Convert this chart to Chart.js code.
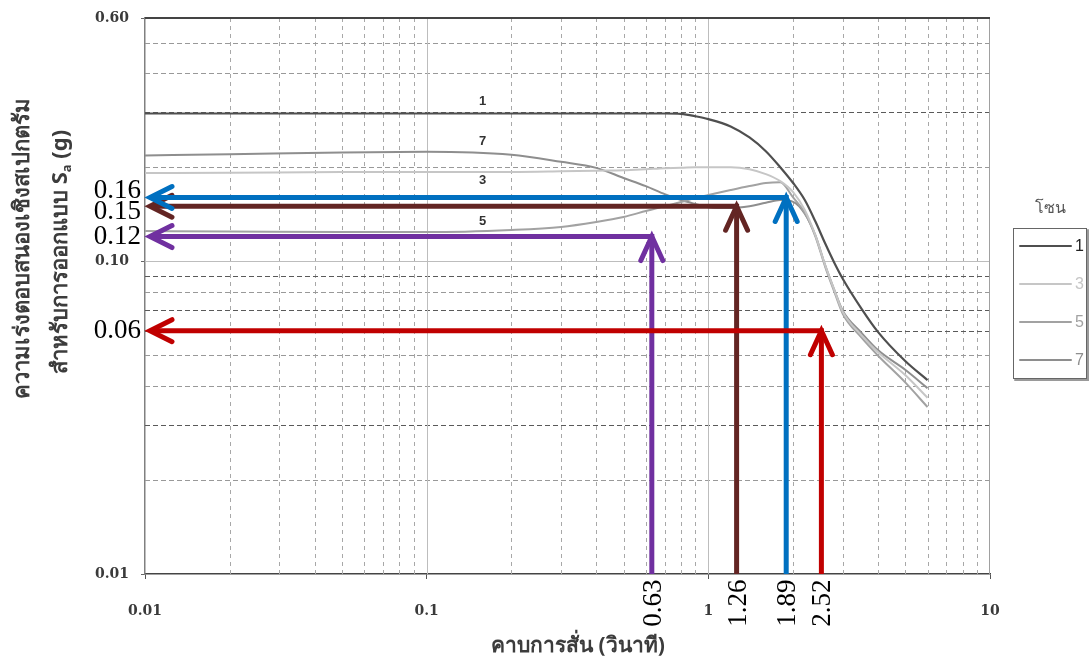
<!DOCTYPE html>
<html>
<head>
<meta charset="utf-8">
<script src="https://cdn.jsdelivr.net/npm/chart.js@4/dist/chart.umd.min.js"></script>
<style>
  html, body { margin: 0; padding: 0; background: #fff; }
</style>
</head>
<body>
<canvas id="myChart" width="1089" height="657"></canvas>
<script>
// design spectra, period (s) vs Sa (g), one line per zone
const periods = [0.01, 0.02, 0.05, 0.1, 0.2, 0.3, 0.4, 0.5, 0.6, 0.7, 0.8, 0.9, 1.0, 1.2, 1.4,
  1.6, 1.8, 2.0, 2.2, 2.4, 2.6, 2.8, 3.0, 3.5, 4.0, 5.0, 6.0];
const zone1 = [0.297, 0.297, 0.297, 0.297, 0.297, 0.297, 0.297, 0.297, 0.297, 0.297, 0.296, 0.291, 0.285, 0.270, 0.249,
  0.225, 0.200, 0.178, 0.157, 0.134, 0.114, 0.099, 0.088, 0.0705, 0.0595, 0.048, 0.0417];
const zone3 = [0.1916, 0.192, 0.193, 0.193, 0.193, 0.194, 0.195, 0.1955, 0.197, 0.1985, 0.199, 0.200, 0.200, 0.200, 0.197,
  0.190, 0.1805, 0.1665, 0.146, 0.121, 0.097, 0.081, 0.069, 0.058, 0.0513, 0.0433, 0.0366];
const zone5 = [0.125, 0.1246, 0.124, 0.124, 0.126, 0.1288, 0.1336, 0.1386, 0.1448, 0.1502, 0.1547, 0.1596, 0.163, 0.169, 0.174,
  0.178, 0.179, 0.160, 0.143, 0.120, 0.096, 0.080, 0.068, 0.057, 0.050, 0.041, 0.0342];
const zone7 = [0.218, 0.220, 0.223, 0.224, 0.219, 0.208, 0.199, 0.1847, 0.174, 0.164, 0.157, 0.1525, 0.149, 0.148, 0.150,
  0.154, 0.157, 0.155, 0.142, 0.121, 0.097, 0.081, 0.0695, 0.059, 0.052, 0.045, 0.0393];
const zoneNames = ['1', '3', '5', '7'];

const xTickValues = [0.01, 0.1, 1, 10];
const yTickValues = [0.01, 0.1, 0.6];

// read-off arrows: period (s) and the Sa value read for it
const readPeriods = [0.63, 1.26, 1.89, 2.52];
const readAccels = [0.12, 0.15, 0.16, 0.06];

const readColors = ['#7030a0', '#632523', '#0070c0', '#c00000'];
const zoneColors = ['#4f4f4f', '#c6c6c6', '#a2a2a2', '#8e8e8e'];
const zoneLabelShift = [-12, 8, -9, -13];

const xTitle = 'คาบการสั่น (วินาที)';
const yTitle1 = 'ความเร่งตอบสนองเชิงสเปกตรัม';
const yTitle2 = 'สำหรับการออกแบบ S';
const legendTitle = 'โซน';

const THAI = '"Noto Sans", "DejaVu Sans", sans-serif';

// minor log lines (2..9 in each decade)
function minorLines(decades) {
  let out = [];
  decades.forEach(d => { for (let k = 2; k <= 9; k++) out.push(Number((k * d).toPrecision(2))); });
  return out;
}
const xMinor = minorLines([0.01, 0.1, 1]);
const yMinor = minorLines([0.01]).concat([0.2, 0.3, 0.4, 0.5]);
const darkRows = [0.03, 0.06, 0.07, 0.09, 0.3];

const allSeries = [zone1, zone3, zone5, zone7];

const data = {
  datasets: allSeries.map((s, i) => ({
    label: zoneNames[i],
    data: periods.map((t, k) => ({ x: t, y: s[k] })),
    borderColor: zoneColors[i],
    backgroundColor: zoneColors[i],
    borderWidth: i === 0 ? 2.2 : 2,
    pointRadius: 0,
    cubicInterpolationMode: 'monotone',
    fill: false
  }))
};

const gridPlugin = {
  id: 'logGrid',
  beforeDatasetsDraw(chart) {
    const { ctx, chartArea: a, scales: { x, y } } = chart;
    ctx.save();
    ctx.lineWidth = 1;

    ctx.strokeStyle = '#a8a8a8';
    ctx.setLineDash([4, 4]);
    xMinor.forEach(v => {
      const px = Math.round(x.getPixelForValue(v)) + 0.5;
      ctx.beginPath(); ctx.moveTo(px, a.top); ctx.lineTo(px, a.bottom); ctx.stroke();
    });

    ctx.setLineDash([5, 3]);
    yMinor.forEach(v => {
      const py = Math.round(y.getPixelForValue(v)) + 0.5;
      ctx.strokeStyle = darkRows.includes(v) ? '#5a5a5a' : '#999';
      ctx.beginPath(); ctx.moveTo(a.left, py); ctx.lineTo(a.right, py); ctx.stroke();
    });

    ctx.setLineDash([]);
    ctx.strokeStyle = '#bdbdbd';
    [0.1, 1].forEach(v => {
      const px = Math.round(x.getPixelForValue(v)) + 0.5;
      ctx.beginPath(); ctx.moveTo(px, a.top); ctx.lineTo(px, a.bottom); ctx.stroke();
    });
    const p10 = Math.round(y.getPixelForValue(0.1)) + 0.5;
    ctx.beginPath(); ctx.moveTo(a.left, p10); ctx.lineTo(a.right, p10); ctx.stroke();

    // frame: heavy top, light right
    ctx.strokeStyle = '#a0a0a0';
    ctx.beginPath(); ctx.moveTo(a.right - 0.5, a.top); ctx.lineTo(a.right - 0.5, a.bottom); ctx.stroke();
    ctx.strokeStyle = '#444';
    ctx.lineWidth = 2;
    ctx.beginPath(); ctx.moveTo(a.left, a.top); ctx.lineTo(a.right, a.top); ctx.stroke();
    ctx.restore();
  }
};

function arrowHead(ctx, tx, ty, dir) {
  ctx.beginPath();
  if (dir === 'left') {
    ctx.moveTo(tx + 22, ty - 11); ctx.lineTo(tx, ty); ctx.lineTo(tx + 22, ty + 11);
  } else {
    ctx.moveTo(tx - 11, ty + 24); ctx.lineTo(tx, ty); ctx.lineTo(tx + 11, ty + 24);
  }
  ctx.stroke();
}

const notePlugin = {
  id: 'notes',
  afterDatasetsDraw(chart) {
    const { ctx, chartArea: a, scales: { x, y } } = chart;
    ctx.save();

    // zone numbers over the flat part of each line
    ctx.font = 'bold 13px "Liberation Sans", sans-serif';
    ctx.fillStyle = '#333';
    ctx.textAlign = 'center';
    ctx.textBaseline = 'middle';
    const lx = x.getPixelForValue(0.158);
    allSeries.forEach((s, i) => {
      ctx.fillText(zoneNames[i], lx, y.getPixelForValue(s[4]) + zoneLabelShift[i]);
    });

    // read-off arrows
    readPeriods.forEach((t, i) => {
      const px = x.getPixelForValue(t);
      const py = y.getPixelForValue(readAccels[i]);
      const tipX = a.left + 5;
      ctx.strokeStyle = readColors[i];
      ctx.lineWidth = 5;
      ctx.lineCap = 'butt';
      ctx.beginPath(); ctx.moveTo(tipX + 3, py); ctx.lineTo(px + 2.5, py); ctx.stroke();
      ctx.beginPath(); ctx.moveTo(px, a.bottom); ctx.lineTo(px, py + 3); ctx.stroke();
      ctx.lineCap = 'round';
      ctx.lineJoin = 'miter';
      arrowHead(ctx, tipX, py, 'left');
      arrowHead(ctx, px, py, 'up');
    });

    // values read on the Sa axis, spaced so they do not collide
    ctx.font = '27px "Liberation Serif", serif';
    ctx.fillStyle = '#000';
    ctx.textAlign = 'right';
    const marks = readAccels.map(v => ({ text: v.toFixed(2), y: y.getPixelForValue(v) }))
      .sort((p, q) => p.y - q.y);
    for (let k = 1; k < marks.length; k++) {
      const gap = marks[k].y - marks[k - 1].y;
      if (gap < 21) { const d = (21 - gap) / 2; marks[k - 1].y -= d; marks[k].y += d; }
    }
    marks.forEach(m => ctx.fillText(m.text, a.left - 4, m.y));

    // periods read on the time axis, turned upright
    ctx.textAlign = 'center';
    readPeriods.forEach(t => {
      ctx.save();
      ctx.translate(x.getPixelForValue(t) + 2, a.bottom + 29);
      ctx.rotate(-Math.PI / 2);
      ctx.fillText(t.toFixed(2), 0, 0);
      ctx.restore();
    });

    // axis titles
    ctx.fillStyle = '#3c3c3c';
    ctx.font = 'bold 21px ' + THAI;
    ctx.fillText(xTitle, 578, 646);

    ctx.font = 'bold 22px ' + THAI;
    ctx.save();
    ctx.translate(23, 248);
    ctx.rotate(-Math.PI / 2);
    ctx.fillText(yTitle1, 0, 0);
    ctx.restore();

    ctx.save();
    ctx.translate(61, 252);
    ctx.rotate(-Math.PI / 2);
    const w1 = ctx.measureText(yTitle2).width;
    ctx.font = 'bold 13px ' + THAI;
    const wa = ctx.measureText('a').width;
    ctx.font = 'bold 22px ' + THAI;
    const wg = ctx.measureText(' (g)').width;
    let sx = -(w1 + wa + wg) / 2;
    ctx.textAlign = 'left';
    ctx.fillText(yTitle2, sx, 0);
    ctx.font = 'bold 13px ' + THAI;
    ctx.fillText('a', sx + w1, 6);
    ctx.font = 'bold 22px ' + THAI;
    ctx.fillText(' (g)', sx + w1 + wa, 0);
    ctx.restore();

    // legend box at the right
    ctx.font = '16px ' + THAI;
    ctx.fillStyle = '#555';
    ctx.textAlign = 'center';
    ctx.fillText(legendTitle, 1050, 208);

    ctx.lineWidth = 2;
    ctx.strokeStyle = '#9a9a9a';
    ctx.beginPath(); ctx.moveTo(1088, 230); ctx.lineTo(1088, 380); ctx.lineTo(1015, 380); ctx.stroke();
    ctx.lineWidth = 1;
    ctx.strokeStyle = '#666';
    ctx.strokeRect(1013.5, 228.5, 73, 150);

    ctx.textAlign = 'left';
    ctx.font = '16px "Liberation Sans", sans-serif';
    chart.data.datasets.forEach((ds, i) => {
      const ly = 246 + i * 38;
      ctx.strokeStyle = ds.borderColor;
      ctx.lineWidth = 2;
      ctx.beginPath(); ctx.moveTo(1020, ly); ctx.lineTo(1071, ly); ctx.stroke();
      ctx.fillStyle = i === 0 ? '#222' : ds.borderColor;
      ctx.fillText(ds.label, 1075, ly + 1);
    });

    ctx.restore();
  }
};

const tickFont = { family: '"DejaVu Serif", serif', weight: 'bold', size: 14 };

const config = {
  type: 'line',
  data: data,
  options: {
    responsive: false,
    animation: false,
    layout: { padding: { top: 18, right: 99, left: 0, bottom: 0 } },
    plugins: {
      legend: { display: false },
      tooltip: { enabled: false }
    },
    scales: {
      x: {
        type: 'logarithmic',
        min: 0.01,
        max: 10,
        afterBuildTicks: s => { s.ticks = xTickValues.map(v => ({ value: v })); },
        afterFit: s => { s.height = 83; s.paddingLeft = 0; s.paddingRight = 0; },
        ticks: {
          callback: v => String(v),
          font: tickFont,
          color: '#3a3a3a',
          padding: 24,
          maxRotation: 0,
          autoSkip: false
        },
        grid: { drawOnChartArea: false, tickLength: 5, tickColor: '#555' },
        border: { color: '#444', width: 1.5 }
      },
      y: {
        type: 'logarithmic',
        min: 0.01,
        max: 0.6,
        afterBuildTicks: s => { s.ticks = yTickValues.map(v => ({ value: v })); },
        afterFit: s => { s.width = 145; s.paddingTop = 0; s.paddingBottom = 0; },
        ticks: {
          callback: v => v.toFixed(2),
          font: tickFont,
          color: '#3a3a3a',
          padding: 12,
          autoSkip: false
        },
        grid: { drawOnChartArea: false, tickLength: 4, tickColor: '#666' },
        border: { color: '#808080', width: 1.5 }
      }
    }
  },
  plugins: [gridPlugin, notePlugin]
};

const myChart = new Chart(document.getElementById('myChart'), config);
</script>
</body>
</html>
